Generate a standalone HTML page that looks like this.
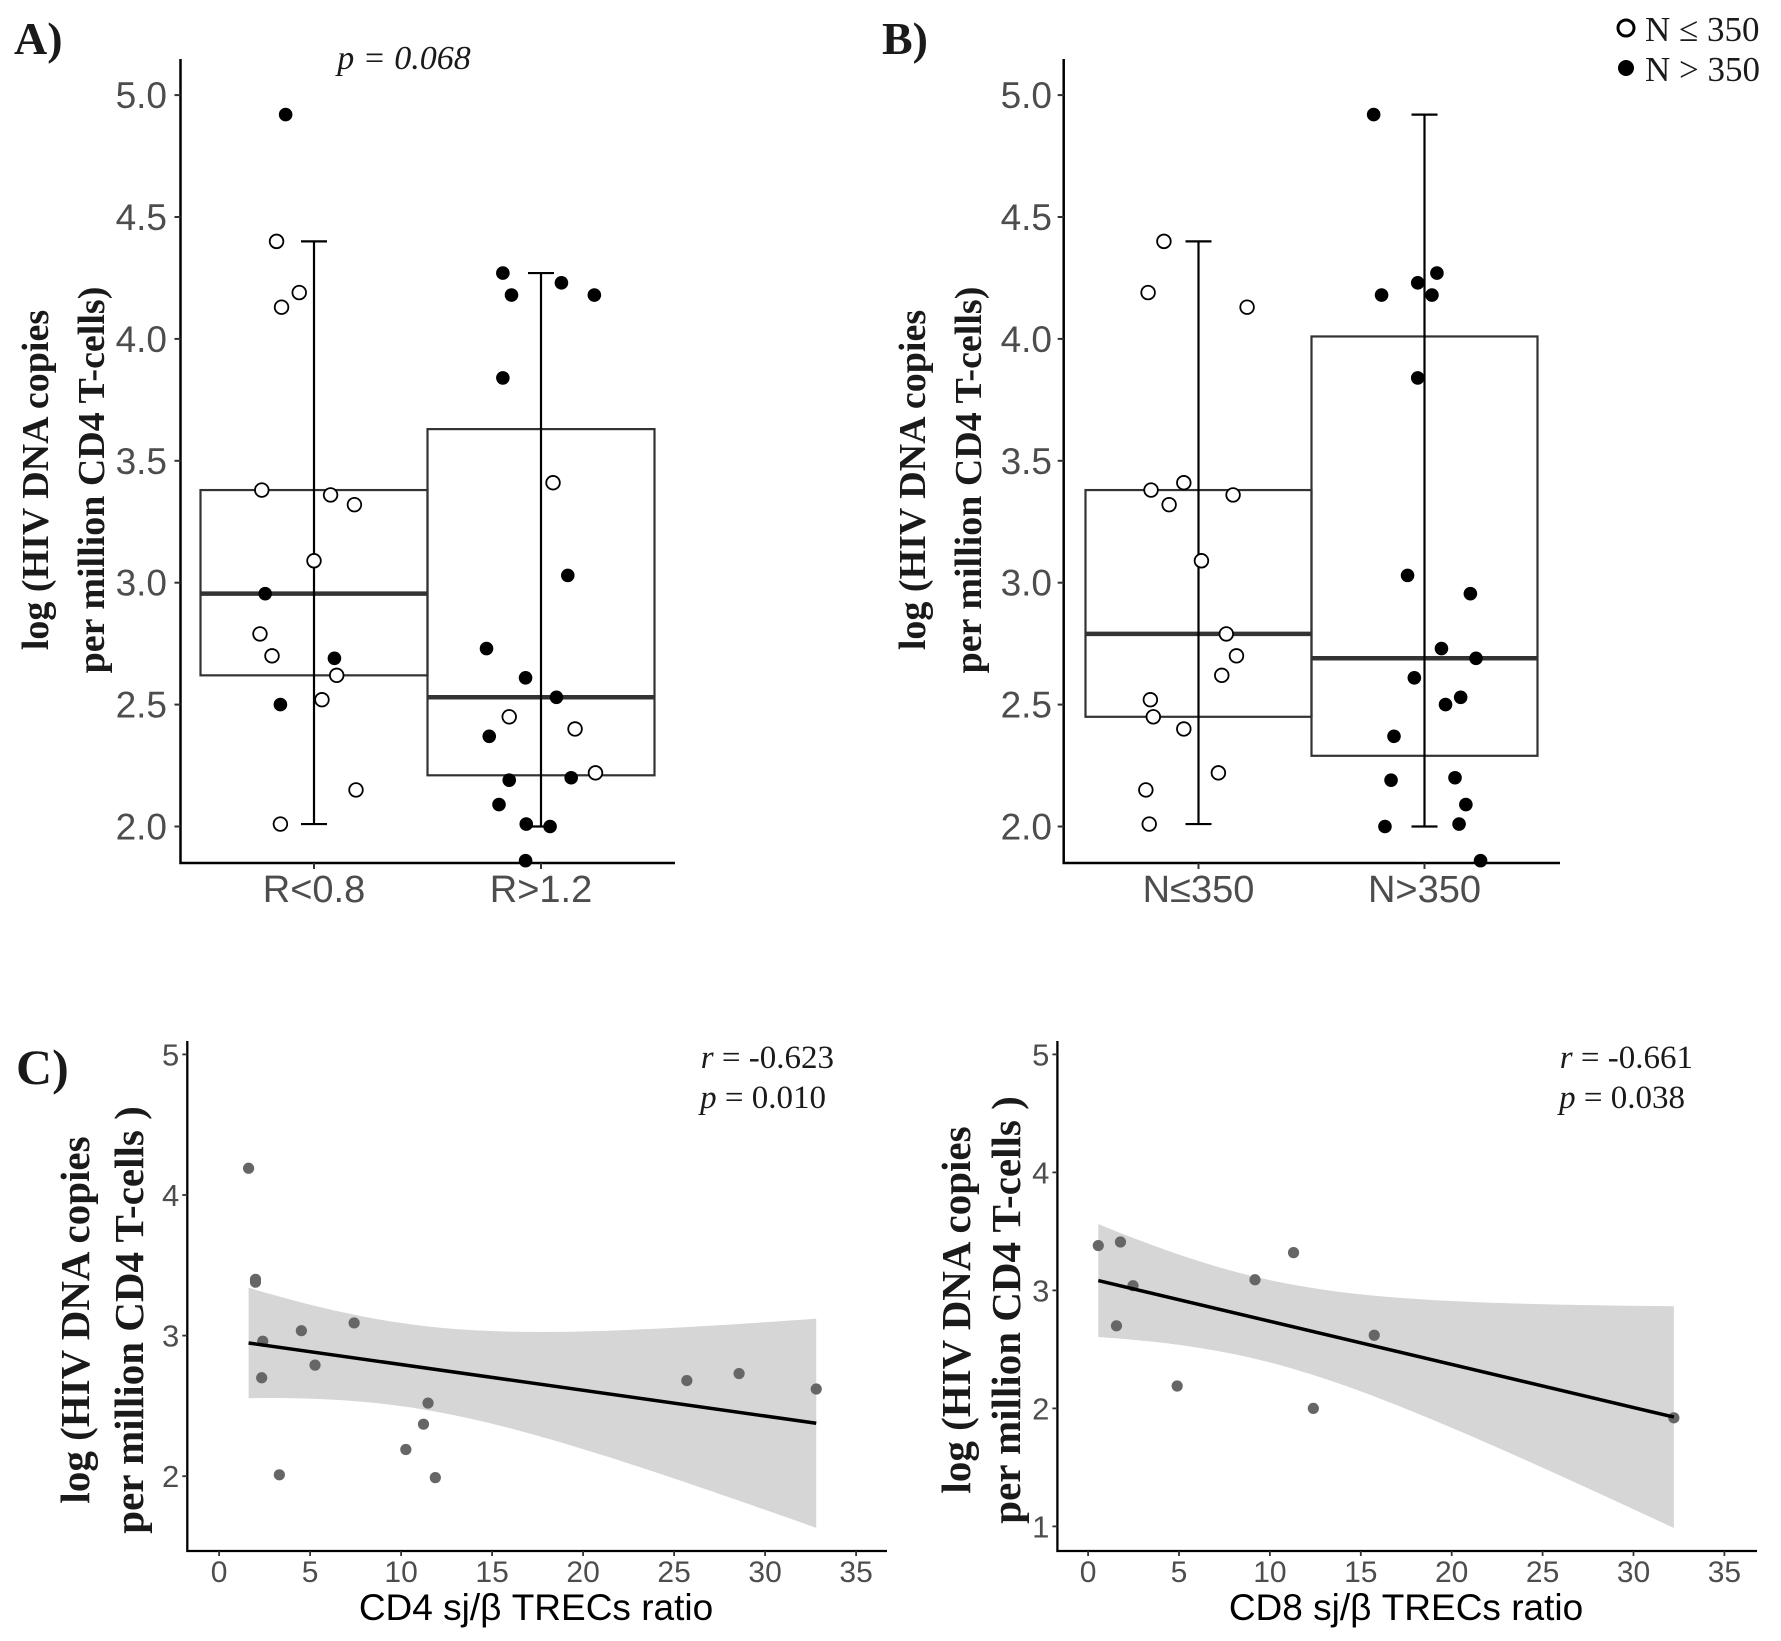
<!DOCTYPE html>
<html><head><meta charset="utf-8"><style>
html,body{margin:0;padding:0;background:#fff;}
svg{display:block;}
.tick{font-family:"Liberation Sans",sans-serif;fill:#4d4d4d;}
.ttl{font-family:"Liberation Serif",serif;font-weight:bold;fill:#1a1a1a;}
.ser{font-family:"Liberation Serif",serif;fill:#1a1a1a;}
</style></head><body>
<svg id="fig" width="1781" height="1641" viewBox="0 0 1781 1641" xmlns="http://www.w3.org/2000/svg">
<text class="ttl" x="14" y="54" font-size="46">A)</text>
<text class="ser" x="404" y="69" font-size="34" font-style="italic" text-anchor="middle">p = 0.068</text>
<text class="ttl" x="882" y="54" font-size="46">B)</text>
<text class="ttl" x="16" y="1084" font-size="50">C)</text>
<g>
<circle cx="1626" cy="28" r="8" fill="#fff" stroke="#000" stroke-width="3"/>
<text class="ser" x="1645" y="41" font-size="35">N ≤ 350</text>
<circle cx="1626" cy="68" r="8" fill="#000"/>
<text class="ser" x="1645" y="81" font-size="35">N &gt; 350</text>
</g>
</svg>
<script>
// ---------- Panel A data ----------
const catsA = ["R<0.8","R>1.2"];
const boxQ1A = [2.62, 2.21];
const boxMedA = [2.955, 2.53];
const boxQ3A = [3.38, 3.63];
const whiskLoA = [2.01, 2.00];
const whiskHiA = [4.40, 4.27];
const ptGroupA = [0,0,0,0,0,0,0,0,0,0,0,0,0, 0,0,0,0, 1,1,1,1,1,1,1,1,1,1,1,1,1,1,1,1, 1,1,1,1];
const ptValA = [4.40,4.13,4.19,3.38,3.36,3.32,3.09,2.79,2.70,2.62,2.52,2.15,2.01, 4.92,2.955,2.69,2.50,
  4.27,4.18,4.23,4.18,3.84,3.03,2.73,2.61,2.53,2.37,2.19,2.20,2.09,2.01,2.00,1.86, 3.41,2.45,2.40,2.22];
const ptJitA = [-0.165,-0.143,-0.065,-0.23,0.073,0.178,0,-0.238,-0.185,0.1,0.035,0.185,-0.148, -0.125,-0.215,0.09,-0.148,
  -0.168,-0.13,0.09,0.235,-0.168,0.118,-0.24,-0.068,0.068,-0.228,-0.14,0.133,-0.185,-0.065,0.04,-0.068, 0.053,-0.14,0.15,0.24];
const ptFilledA = [0,0,0,0,0,0,0,0,0,0,0,0,0, 1,1,1,1, 1,1,1,1,1,1,1,1,1,1,1,1,1,1,1,1, 0,0,0,0];
// ---------- Panel B data ----------
const catsB = ["N≤350","N>350"];
const boxQ1B = [2.45, 2.29];
const boxMedB = [2.79, 2.69];
const boxQ3B = [3.38, 4.01];
const whiskLoB = [2.01, 2.00];
const whiskHiB = [4.40, 4.92];
const ptGroupB = [0,0,0,0,0,0,0,0,0,0,0,0,0,0,0,0,0, 1,1,1,1,1,1,1,1,1,1,1,1,1,1,1,1,1,1,1,1];
const ptValB = [4.40,4.19,4.13,3.38,3.41,3.32,3.36,3.09,2.79,2.70,2.62,2.52,2.45,2.40,2.22,2.15,2.01,
  4.92,4.18,4.23,4.27,4.18,3.84,3.03,2.955,2.73,2.69,2.61,2.53,2.50,2.37,2.19,2.20,2.09,2.01,2.00,1.86];
const ptJitB = [-0.153,-0.223,0.215,-0.21,-0.065,-0.13,0.153,0.013,0.123,0.168,0.103,-0.213,-0.2,-0.065,0.088,-0.233,-0.218,
  -0.225,-0.19,-0.03,0.055,0.033,-0.03,-0.075,0.203,0.075,0.228,-0.045,0.16,0.093,-0.135,-0.148,0.135,0.183,0.153,-0.175,0.248];
const ptFilledB = [0,0,0,0,0,0,0,0,0,0,0,0,0,0,0,0,0, 1,1,1,1,1,1,1,1,1,1,1,1,1,1,1,1,1,1,1,1];
const boxTicks = [2.0,2.5,3.0,3.5,4.0,4.5,5.0];
const boxTickLabels = ["2.0","2.5","3.0","3.5","4.0","4.5","5.0"];
// ---------- Panel C data ----------
const cd4X = [1.62,2.0,2.0,4.52,7.42,2.4,5.27,2.34,25.7,28.57,32.81,11.48,11.23,10.26,3.31,11.88];
const cd4Y = [4.19,3.40,3.38,3.035,3.09,2.96,2.79,2.70,2.68,2.73,2.62,2.52,2.37,2.19,2.01,1.99];
const cTicksY = [2,3,4,5];
const cTickLabelsY = ["2","3","4","5"];
// ---------- Panel D data ----------
const cd8X = [0.56,1.78,2.47,1.56,4.90,9.18,11.30,12.39,15.74,32.22];
const cd8Y = [3.38,3.41,3.04,2.70,2.19,3.09,3.32,2.00,2.62,1.92];
const dTicksY = [1,2,3,4,5];
const dTickLabelsY = ["1","2","3","4","5"];
const scatTicksX = [0,5,10,15,20,25,30,35];
const scatTickLabelsX = ["0","5","10","15","20","25","30","35"];

const NS = "http://www.w3.org/2000/svg";
const svg = document.getElementById("fig");
function mk(tag, attrs, parent) {
  const e = document.createElementNS(NS, tag);
  for (const k in attrs) e.setAttribute(k, attrs[k]);
  (parent || svg).appendChild(e);
  return e;
}

function boxPanel(o) {
  const g = mk("g", {});
  
  
  const y = v => o.y0 + (o.v0 - v) * o.pu;
  const x = (i, j) => o.cx[i] + (j || 0) * o.band;
  for (let i = 0; i < o.cats.length; i++) {
    const r = mk("rect", {x: x(i) - o.band * 0.5, y: y(o.q3[i]), width: o.band, height: y(o.q1[i]) - y(o.q3[i]), fill: "none", stroke: "#333", "stroke-width": 2.2}, g);
    
    
    const m = mk("line", {x1: x(i) - o.band * 0.5, x2: x(i) + o.band * 0.5, y1: y(o.med[i]), y2: y(o.med[i]), stroke: "#333", "stroke-width": 4.5}, g);
    
    
    const w = mk("path", {d: `M${x(i)},${y(o.lo[i])}V${y(o.hi[i])}M${x(i)-13},${y(o.lo[i])}H${x(i)+13}M${x(i)-13},${y(o.hi[i])}H${x(i)+13}`, stroke: "#000", "stroke-width": 2.2, fill: "none"}, g);
    
    
  }
  for (let k = 0; k < o.vals.length; k++) {
    const yy = y(o.vals[k]);
    if (yy > o.yb) continue;
    const c = mk("circle", {cx: x(o.grp[k], o.jit[k]), cy: yy, r: 6.8, fill: o.filled[k] ? "#000" : "#fff", stroke: "#000", "stroke-width": o.filled[k] ? 0 : 1.8}, g);
    
    
  }
  const ax = mk("path", {d: `M${o.ax},${o.yt}V${o.yb}H${o.xe}`, stroke: "#000", "stroke-width": 2.5, fill: "none"}, g);
  
  
  for (let t = 0; t < o.ticks.length; t++) {
    mk("line", {x1: o.ax - 6, x2: o.ax, y1: y(o.ticks[t]), y2: y(o.ticks[t]), stroke: "#333", "stroke-width": 2}, g);
    const tl = mk("text", {class: "tick", x: o.lx, y: y(o.ticks[t]) + 13, "font-size": 37, "text-anchor": "end"}, g);
    tl.textContent = o.tickLabels[t];
    
    
  }
  for (let i = 0; i < o.cats.length; i++) {
    mk("line", {x1: x(i), x2: x(i), y1: o.yb, y2: o.yb + 6, stroke: "#333", "stroke-width": 2}, g);
    const cl = mk("text", {class: "tick", x: x(i), y: 902, "font-size": 38, "text-anchor": "middle"}, g);
    cl.textContent = o.cats[i];
    
    
  }
  const t1 = mk("text", {class: "ttl", "font-size": 38, "text-anchor": "middle", transform: `translate(${o.tx1},${o.tcy}) rotate(-90)`}, g);
  t1.textContent = "log (HIV DNA copies";
  
  
  const t2 = mk("text", {class: "ttl", "font-size": 38, "text-anchor": "middle", transform: `translate(${o.tx2},${o.tcy}) rotate(-90)`}, g);
  t2.textContent = "per million CD4 T-cells)";
  
  
}

boxPanel({name: "panel-a-boxplot", cats: catsA, q1: boxQ1A, med: boxMedA, q3: boxQ3A, lo: whiskLoA, hi: whiskHiA,
  grp: ptGroupA, vals: ptValA, jit: ptJitA, filled: ptFilledA, ticks: boxTicks, tickLabels: boxTickLabels,
  y0: 95.1, v0: 5, pu: 243.8, cx: [314, 541], band: 227, ax: 180.5, yt: 59, yb: 863, xe: 675, lx: 167,
  tx1: 48, tx2: 104, tcy: 480});
boxPanel({name: "panel-b-boxplot", cats: catsB, q1: boxQ1B, med: boxMedB, q3: boxQ3B, lo: whiskLoB, hi: whiskHiB,
  grp: ptGroupB, vals: ptValB, jit: ptJitB, filled: ptFilledB, ticks: boxTicks, tickLabels: boxTickLabels,
  y0: 95.1, v0: 5, pu: 243.8, cx: [1198.5, 1424.5], band: 226, ax: 1063.7, yt: 59, yb: 863, xe: 1560, lx: 1052,
  tx1: 925, tx2: 981, tcy: 480});

function scatPanel(o) {
  const g = mk("g", {});
  
  
  const X = v => o.x0 + v * o.px;
  const Y = v => o.y5 + (5 - v) * o.py;
  const n = o.xs.length;
  const mx = o.xs.reduce((a, b) => a + b, 0) / n;
  const my = o.ys.reduce((a, b) => a + b, 0) / n;
  let sxx = 0, sxy = 0;
  for (let i = 0; i < n; i++) { sxx += (o.xs[i] - mx) ** 2; sxy += (o.xs[i] - mx) * (o.ys[i] - my); }
  const b = sxy / sxx, a = my - b * mx;
  let sse = 0;
  for (let i = 0; i < n; i++) sse += (o.ys[i] - a - b * o.xs[i]) ** 2;
  const s = Math.sqrt(sse / (n - 2));
  const tq = [12.706,4.303,3.182,2.776,2.571,2.447,2.365,2.306,2.262,2.228,2.201,2.179,2.160,2.145,2.131][Math.min(n - 3, 14)];
  const xmin = Math.min(...o.xs), xmax = Math.max(...o.xs);
  let up = [], dn = [];
  for (let k = 0; k <= 60; k++) {
    const xv = xmin + (xmax - xmin) * k / 60;
    const se = s * Math.sqrt(1 / n + (xv - mx) ** 2 / sxx);
    const f = a + b * xv;
    up.push(`${X(xv)},${Y(f + tq * se)}`);
    dn.unshift(`${X(xv)},${Y(f - tq * se)}`);
  }
  const band = mk("polygon", {points: up.concat(dn).join(" "), fill: "#d6d6d6", stroke: "none"}, g);
  
  
  for (let i = 0; i < n; i++) {
    const c = mk("circle", {cx: X(o.xs[i]), cy: Y(o.ys[i]), r: 5.6, fill: "#666"}, g);
    
    
  }
  const ln = mk("line", {x1: X(xmin), y1: Y(a + b * xmin), x2: X(xmax), y2: Y(a + b * xmax), stroke: "#000", "stroke-width": 3.5}, g);
  
  
  const ax = mk("path", {d: `M${o.ax},1041V1551H${o.xe}`, stroke: "#000", "stroke-width": 2.3, fill: "none"}, g);
  
  
  for (let t = 0; t < o.ticksY.length; t++) {
    mk("line", {x1: o.ax - 5, x2: o.ax, y1: Y(o.ticksY[t]), y2: Y(o.ticksY[t]), stroke: "#333", "stroke-width": 1.8}, g);
    const tl = mk("text", {class: "tick", x: o.ax - 8, y: Y(o.ticksY[t]) + 11, "font-size": 31, "text-anchor": "end"}, g);
    tl.textContent = o.tickLabelsY[t];
    
    
  }
  for (let t = 0; t < scatTicksX.length; t++) {
    mk("line", {x1: X(scatTicksX[t]), x2: X(scatTicksX[t]), y1: 1551, y2: 1556, stroke: "#333", "stroke-width": 1.8}, g);
    const tl = mk("text", {class: "tick", x: X(scatTicksX[t]), y: 1582, "font-size": 30, "text-anchor": "middle"}, g);
    tl.textContent = scatTickLabelsX[t];
    
    
  }
  const xt = mk("text", {x: o.xtc, y: 1620, "font-size": 37, "text-anchor": "middle", "font-family": '"Liberation Sans",sans-serif', fill: "#000"}, g);
  xt.textContent = o.xtitle;
  
  
  const t1 = mk("text", {class: "ttl", "font-size": 41, "text-anchor": "middle", transform: `translate(${o.tx1},${o.tcy}) rotate(-90)`}, g);
  t1.textContent = "log (HIV DNA copies";
  
  
  const t2 = mk("text", {class: "ttl", "font-size": 41, "text-anchor": "middle", transform: `translate(${o.tx2},${o.tcy}) rotate(-90)`}, g);
  t2.textContent = "per million CD4 T-cells )";
  
  
  const r = mk("text", {class: "ser", x: o.rx, y: 1068, "font-size": 33, "text-anchor": "end"}, g);
  r.innerHTML = '<tspan font-style="italic">r</tspan> = ' + o.rText;
  
  
  const p = mk("text", {class: "ser", x: o.rx - 8, y: 1108, "font-size": 33, "text-anchor": "end"}, g);
  p.innerHTML = '<tspan font-style="italic">p</tspan> = ' + o.pText;
  
  
}

scatPanel({name: "panel-c-cd4-scatter", xs: cd4X, ys: cd4Y, ticksY: cTicksY, tickLabelsY: cTickLabelsY,
  x0: 219.1, px: 18.2, y5: 1054.4, py: 140.6, ax: 187.3, xe: 887, xtc: 536, xtitle: "CD4 sj/β TRECs ratio",
  tx1: 89, tx2: 143, tcy: 1320, rx: 834, rText: "-0.623", pText: "0.010"});
scatPanel({name: "panel-d-cd8-scatter", xs: cd8X, ys: cd8Y, ticksY: dTicksY, tickLabelsY: dTickLabelsY,
  x0: 1088.1, px: 18.18, y5: 1054.4, py: 118.0, ax: 1057.4, xe: 1757, xtc: 1406, xtitle: "CD8 sj/β TRECs ratio",
  tx1: 970, tx2: 1020, tcy: 1310, rx: 1693, rText: "-0.661", pText: "0.038"});
</script>
</body></html>
